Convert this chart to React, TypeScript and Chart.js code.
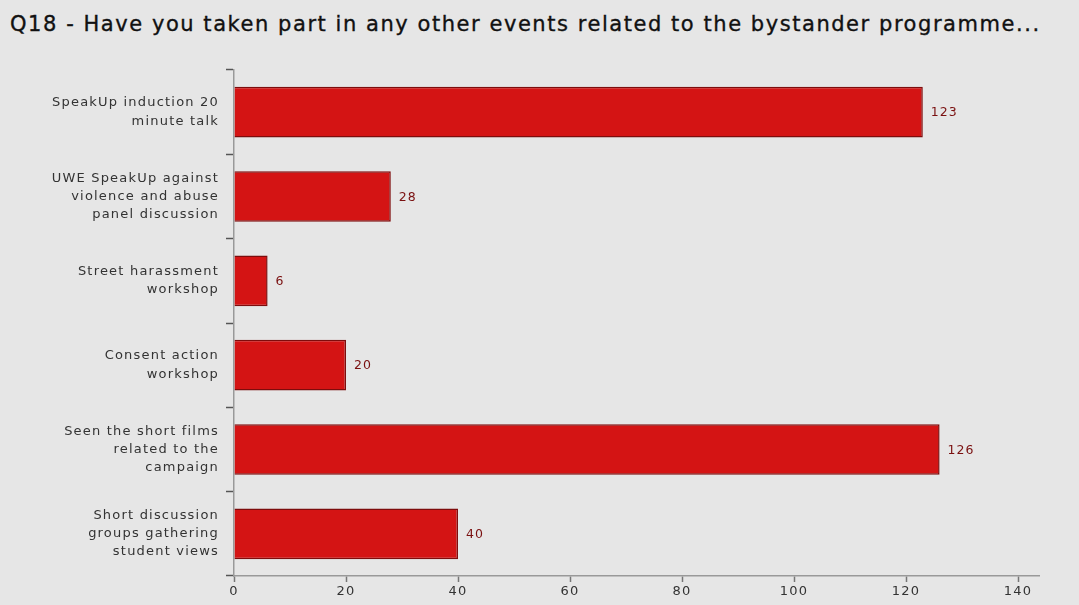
import React, { useEffect, useRef } from "react";
import { Chart, registerables } from "chart.js";

Chart.register(...registerables);

const titleText = "Q18 - Have you taken part in any other events related to the bystander programme...";
const categories: string[][] = [
  ["SpeakUp induction 20", "minute talk"],
  ["UWE SpeakUp against", "violence and abuse", "panel discussion"],
  ["Street harassment", "workshop"],
  ["Consent action", "workshop"],
  ["Seen the short films", "related to the", "campaign"],
  ["Short discussion", "groups gathering", "student views"],
];
const values: number[] = [123, 28, 6, 20, 126, 40];
const xTicks: number[] = [0, 20, 40, 60, 80, 100, 120, 140];

const FONT = "'DejaVu Sans', sans-serif";

const spacing = {
  id: "spacing",
  beforeDraw(chart: any) {
    chart.ctx.letterSpacing = "1.2px";
  },
};

const valueLabels = {
  id: "valueLabels",
  afterDatasetsDraw(chart: any) {
    const ctx = chart.ctx;
    const meta = chart.getDatasetMeta(0);
    ctx.save();
    ctx.letterSpacing = "1px";
    ctx.font = `12.5px ${FONT}`;
    ctx.fillStyle = "#7a1010";
    ctx.textAlign = "left";
    ctx.textBaseline = "middle";
    meta.data.forEach((bar: any, i: number) => {
      ctx.fillText(String(values[i]), bar.x + 8, bar.y + 1);
    });
    ctx.restore();
  },
};

export default function App() {
  const ref = useRef<HTMLCanvasElement | null>(null);
  useEffect(() => {
    if (!ref.current) return;
    const chart = new Chart(ref.current, {
      type: "bar",
      data: {
        labels: categories,
        datasets: [
          {
            data: values,
            backgroundColor: "#d41414",
            borderColor: "#7e0c0c",
            borderWidth: 1.5,
            barPercentage: 0.6,
            categoryPercentage: 1,
          },
        ],
      },
      options: {
        indexAxis: "y",
        animation: false,
        responsive: false,
        maintainAspectRatio: false,
        layout: { padding: { top: 70, right: 40, left: 0, bottom: 0 } },
        plugins: {
          legend: { display: false },
          tooltip: { enabled: false },
          title: { display: false },
        },
        scales: {
          x: {
            min: 0,
            max: 143.75,
            afterFit: (s: any) => {
              s.height = 29;
            },
            afterBuildTicks: (s: any) => {
              s.ticks = xTicks.map((v) => ({ value: v }));
            },
            ticks: {
              font: { family: FONT, size: 13 },
              color: "#333",
              padding: 2,
            },
            grid: {
              drawOnChartArea: false,
              drawTicks: true,
              tickLength: 6,
              color: "#777",
              tickWidth: 1.5,
            },
            border: { display: true, color: "#999", width: 1.5 },
          },
          y: {
            afterFit: (s: any) => {
              s.width = 234;
            },
            ticks: {
              font: { family: FONT, size: 13, lineHeight: 1.4 },
              color: "#333",
              padding: 7,
            },
            grid: {
              offset: true,
              drawOnChartArea: false,
              drawTicks: true,
              tickLength: 8,
              color: "#555",
              tickWidth: 1.5,
            },
            border: { display: true, color: "#999", width: 1.5 },
          },
        },
      },
      plugins: [spacing, valueLabels],
    });
    return () => chart.destroy();
  }, []);
  return (
    <div
      style={{
        position: "fixed",
        left: 0,
        top: 0,
        width: 1079,
        height: 605,
        background: "#e6e6e6",
      }}
    >
      <div
        style={{
          position: "absolute",
          left: 10,
          top: 12,
          fontFamily: FONT,
          fontSize: 21,
          letterSpacing: "1.55px",
          WebkitTextStroke: "0.35px #111",
          color: "#111",
          whiteSpace: "nowrap",
        }}
      >
        {titleText}
      </div>
      <canvas ref={ref} width={1079} height={605} style={{ position: "absolute", left: 0, top: 0 }} />
    </div>
  );
}
